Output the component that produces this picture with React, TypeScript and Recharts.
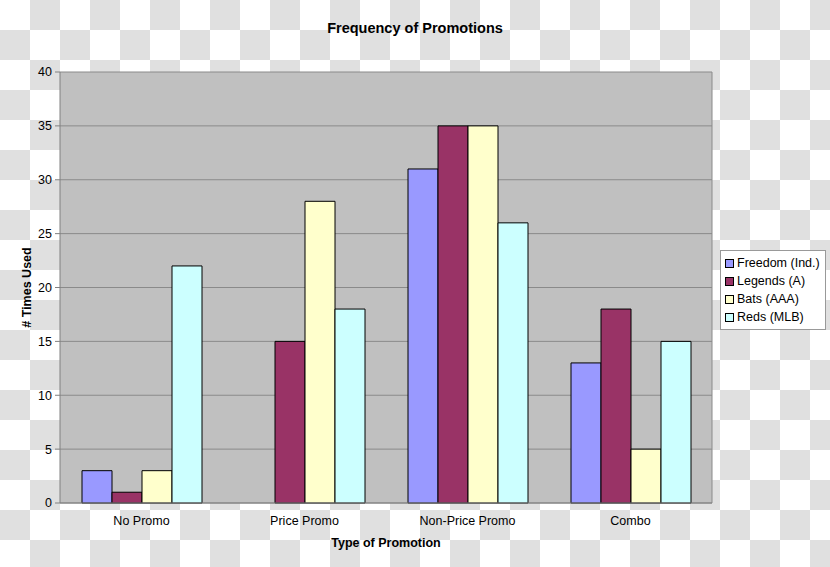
import React from 'react';
import {
  BarChart,
  Bar,
  XAxis,
  YAxis,
  CartesianGrid
} from 'recharts';

const categories = ['No Promo', 'Price Promo', 'Non-Price Promo', 'Combo'];
const freedom = [3, 0, 31, 13];
const legends = [1, 15, 35, 18];
const bats = [3, 28, 35, 5];
const reds = [22, 18, 26, 15];
const yTicks = [0, 5, 10, 15, 20, 25, 30, 35, 40];

const series = [
  { key: 'freedom', name: 'Freedom (Ind.)', color: '#9999FF' },
  { key: 'legends', name: 'Legends (A)', color: '#993366' },
  { key: 'bats', name: 'Bats (AAA)', color: '#FFFFCC' },
  { key: 'reds', name: 'Reds (MLB)', color: '#CCFFFF' }
];

const data = categories.map((name, i) => ({
  name,
  freedom: freedom[i],
  legends: legends[i],
  bats: bats[i],
  reds: reds[i]
}));

const FONT = '"Liberation Sans", Arial, sans-serif';

// legend sits outside the plot, so it's a plain div rather than <Legend>
const LegendBox = () => (
  <div
    style={{
      position: 'absolute',
      left: 720,
      top: 250,
      background: '#fff',
      border: '1px solid #999',
      padding: '3px 5px 3px 4px',
      fontFamily: FONT,
      fontSize: 12.5,
      color: '#000',
      whiteSpace: 'nowrap'
    }}
  >
    {series.map(s => (
      <div key={s.key} style={{ display: 'flex', alignItems: 'center', height: 18 }}>
        <span
          style={{
            display: 'inline-block',
            width: 7,
            height: 7,
            background: s.color,
            border: '1px solid #000',
            marginRight: 3
          }}
        />
        {s.name}
      </div>
    ))}
  </div>
);

const YTitle = (props: any) => {
  const vb = props.viewBox || {};
  const cx = 27;
  const cy = vb.y + vb.height / 2;
  return (
    <text
      x={cx}
      y={cy}
      transform={`rotate(-90 ${cx} ${cy})`}
      textAnchor="middle"
      dominantBaseline="central"
      fontFamily={FONT}
      fontSize={12.5}
      fontWeight="bold"
      fill="#000"
    >
      # Times Used
    </text>
  );
};

export default function App() {
  return (
    <div
      style={{
        position: 'absolute',
        left: 0,
        top: 0,
        width: 830,
        height: 567,
        background: 'repeating-conic-gradient(#e0e0e0 0 25%, #ffffff 0 50%) 0 0 / 60px 60px'
      }}
    >
      <div
        style={{
          position: 'absolute',
          top: 20,
          left: 0,
          width: 830,
          textAlign: 'center',
          fontFamily: FONT,
          fontSize: 14.5,
          fontWeight: 'bold',
          color: '#000'
        }}
      >
        Frequency of Promotions
      </div>
      <BarChart
        width={830}
        height={567}
        data={data}
        margin={{ top: 72, right: 118, bottom: 0, left: 0 }}
        barCategoryGap="13.5%"
        barGap={0}
      >
        <CartesianGrid
          horizontal
          vertical
          verticalCoordinatesGenerator={({ offset }: any) => [offset.left + offset.width]}
          fill="#c0c0c0"
          fillOpacity={1}
          stroke="#8a8a8a"
        />
        <XAxis
          dataKey="name"
          height={64}
          tickLine={false}
          axisLine={{ stroke: '#808080' }}
          tick={{ fill: '#000', fontSize: 12.5, fontFamily: FONT }}
          tickSize={6}
          tickMargin={7}
          label={{
            value: 'Type of Promotion',
            position: 'insideBottom',
            offset: 20,
            style: { fill: '#000', fontSize: 12.5, fontWeight: 'bold', fontFamily: FONT }
          }}
        />
        <YAxis
          width={60}
          domain={[0, 40]}
          ticks={yTicks}
          interval={0}
          tickSize={5}
          tickMargin={3}
          tickLine={{ stroke: '#808080' }}
          axisLine={{ stroke: '#808080' }}
          tick={{ fill: '#000', fontSize: 12.5, fontFamily: FONT }}
          label={<YTitle />}
        />
        {series.map(s => (
          <Bar
            key={s.key}
            dataKey={s.key}
            name={s.name}
            fill={s.color}
            stroke="#000"
            strokeWidth={1}
            isAnimationActive={false}
          />
        ))}
      </BarChart>
      <LegendBox />
    </div>
  );
}
